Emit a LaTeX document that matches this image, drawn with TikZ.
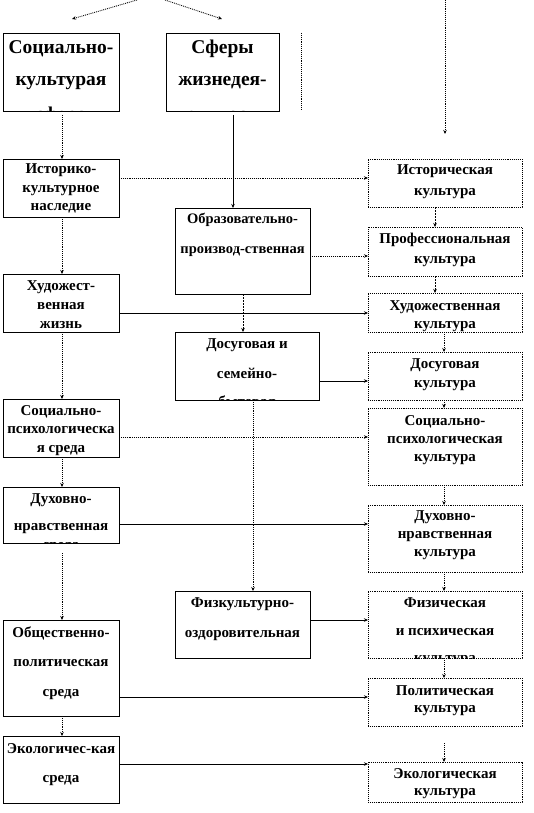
\documentclass[tikz,border=0pt]{standalone}
\usepackage{fontspec}
\setmainfont{Liberation Serif}
\usetikzlibrary{arrows.meta}
\begin{document}
\begin{tikzpicture}[x=1pt,y=-1pt,
  box/.style={draw,line width=0.9pt,rectangle,inner sep=0pt,outer sep=0pt,anchor=north west},
  dbox/.style={box,densely dotted},
  tip/.style={-{Stealth[length=4pt,width=3.5pt]}},
  sline/.style={line width=0.9pt},
  dline/.style={line width=0.9pt,densely dotted},
  dashline/.style={line width=0.9pt,dash pattern=on 2pt off 1pt},
  txt/.style={align=center,inner sep=0pt,anchor=base},
  big/.style={txt,font=\bfseries\fontsize{19.5}{32}\selectfont},
]
\useasboundingbox (0,0) rectangle (534,813);
\newcommand{\tx}[2]{\fontsize{#1}{#2}\selectfont\bfseries}
% text nodes are anchored at the baseline of their last line

% ---------- top boxes
\node[box,minimum width=116pt,minimum height=78pt] (sk) at (3,33) {};
\node[box,minimum width=113pt,minimum height=78pt] (sf) at (166,33) {};
\begin{scope}
  \clip (3,33) rectangle (119,111);
  \node[big] (skt) at (61,121) {Социально-\\культурая\\[3pt]сфера};
\end{scope}
\begin{scope}
  \clip (166,33) rectangle (279,111);
  \node[big] (sft) at (222.5,121) {Сферы\\жизнедея-\\[3pt]тельности};
\end{scope}

% ---------- left column
\node[box,minimum width=116pt,minimum height=58pt] (hist) at (3,159) {};
\node[txt,font=\tx{15}{18.5}] (histt) at (61,211) {Историко-\\культурное\\наследие};
\node[box,minimum width=116pt,minimum height=58pt] (hud) at (3,274) {};
\node[txt,font=\tx{15}{19}] (hudt) at (61,328) {Художест-\\венная\\жизнь};
\node[box,minimum width=116pt,minimum height=58pt] (socps) at (3,399) {};
\node[txt,font=\tx{15}{18.5}] (socpst) at (61,452) {Социально-\\психологическа\\я среда};
\node[box,minimum width=116pt,minimum height=56pt] (duh) at (3,487) {};
\begin{scope}
  \clip (3,487) rectangle (119,543);
  \node[txt,font=\tx{15}{27}] (duht) at (61,549) {Духовно-\\нравственная\\[-8pt]среда};
\end{scope}
\node[box,minimum width=116pt,minimum height=96pt] (obsh) at (3,620) {};
\node[txt,font=\tx{15}{29.5}] (obsht) at (61,696) {Общественно-\\политическая\\среда};
\node[box,minimum width=116pt,minimum height=67pt] (ekol) at (3,736) {};
\node[txt,font=\tx{15}{29}] (ekolt) at (61,782) {Экологичес-кая\\среда};

% ---------- middle column
\node[box,minimum width=135pt,minimum height=86pt] (obr) at (175,208) {};
\node[txt,font=\tx{14.5}{30}] (obrt) at (242.5,253) {Образовательно-\\производ-ственная};
\node[box,minimum width=144pt,minimum height=68pt] (dos) at (175,332) {};
\begin{scope}
  \clip (175,332) rectangle (319,400);
  \node[txt,font=\tx{15}{30}] (dost) at (247,406) {Досуговая и\\семейно-\\[-2pt]бытовая};
\end{scope}
\node[box,minimum width=135pt,minimum height=67pt] (fizk) at (175,591) {};
\node[txt,font=\tx{15}{30}] (fizkt) at (242.5,637) {Физкультурно-\\оздоровительная};

% ---------- right column
\node[dbox,minimum width=154pt,minimum height=48pt] (histc) at (368,159) {};
\node[txt,font=\tx{15}{21}] (histct) at (445,196) {Историческая\\культура};
\node[dbox,minimum width=154pt,minimum height=49pt] (prof) at (368,227) {};
\node[txt,font=\tx{15}{20}] (proft) at (445,263) {Профессиональная\\культура};
\node[dbox,minimum width=154pt,minimum height=39pt] (hudc) at (368,293) {};
\node[txt,font=\tx{15}{18}] (hudct) at (445,328) {Художественная\\культура};
\node[dbox,minimum width=154pt,minimum height=48pt] (dosc) at (368,352) {};
\node[txt,font=\tx{15}{19}] (dosct) at (445,387) {Досуговая\\культура};
\node[dbox,minimum width=154pt,minimum height=77pt] (socpc) at (368,408) {};
\node[txt,font=\tx{15}{18}] (socpct) at (445,461) {Социально-\\психологическая\\культура};
\node[dbox,minimum width=154pt,minimum height=67pt] (duhc) at (368,505) {};
\node[txt,font=\tx{15}{18}] (duhct) at (445,556) {Духовно-\\нравственная\\культура};
\node[dbox,minimum width=154pt,minimum height=67pt] (fiz) at (368,591) {};
\begin{scope}
  \clip (368,591) rectangle (522,658);
  \node[txt,font=\tx{15}{28}] (fizt) at (445,662) {Физическая\\и психическая\\[-1pt]культура};
\end{scope}
\node[dbox,minimum width=154pt,minimum height=48pt] (pol) at (368,678) {};
\node[txt,font=\tx{15}{17.5}] (polt) at (445,712.5) {Политическая\\культура};
\node[dbox,minimum width=154pt,minimum height=40pt] (ekolc) at (368,762) {};
\node[txt,font=\tx{15}{17.5}] (ekolct) at (445,795.5) {Экологическая\\культура};

% ---------- free ends
\coordinate (t1) at (137,0);
\coordinate (t2) at (165,0);
\coordinate (l1) at (72,19);
\coordinate (r1) at (222,19);
\coordinate (rt) at (445,0);
\coordinate (rb) at (445,134);
\coordinate (ex1) at (301,33);
\coordinate (ex2) at (301,110);
\coordinate (skd) at (62,115);
\coordinate (sfd) at (233,115);
\coordinate (duhd) at (62,553);
\coordinate (pold) at (444,743);

% ---------- connectors
\draw[dline,tip] (t1) -- (l1);
\draw[dline,tip] (t2) -- (r1);
\draw[dline,tip] (rt) -- (rb);
\draw[dline] (ex1) -- (ex2);
\draw[dline,tip] (skd) -- (skd |- hist.north);
\draw[sline,tip] (sfd) -- (sfd |- obr.north);
\draw[dline,tip] (hist.south -| skd) -- (hud.north -| skd);
\draw[dline,tip] (hud.south -| skd) -- (socps.north -| skd);
\draw[dline,tip] (socps.south -| skd) -- (duh.north -| skd);
\draw[dline,tip] (duhd) -- (obsh.north -| duhd);
\draw[dline,tip] (obsh.south -| skd) -- (ekol.north -| skd);
\draw[dashline,tip] (obr.south -| 243,0) -- (dos.north -| 243,0);
\draw[dline,tip] (dos.south -| 253,0) -- (fizk.north -| 253,0);

\draw[dline,tip] (hist.east |- 0,178) -- (histc.west |- 0,178);
\draw[dline,tip] (obr.east |- 0,256) -- (prof.west |- 0,256);
\draw[sline,tip] (hud.east |- 0,313) -- (hudc.west |- 0,313);
\draw[sline,tip] (dos.east |- 0,381) -- (dosc.west |- 0,381);
\draw[dline,tip] (socps.east |- 0,437) -- (socpc.west |- 0,437);
\draw[sline,tip] (duh.east |- 0,524) -- (duhc.west |- 0,524);
\draw[sline,tip] (fizk.east |- 0,620) -- (fiz.west |- 0,620);
\draw[sline,tip] (obsh.east |- 0,697) -- (pol.west |- 0,697);
\draw[sline,tip] (ekol.east |- 0,764) -- (ekolc.west |- 0,764);

\draw[dashline,tip] (histc.south -| 435,0) -- (prof.north -| 435,0);
\draw[dashline,tip] (prof.south -| 435,0) -- (hudc.north -| 435,0);
\draw[dline,tip] (hudc.south -| 444,0) -- (dosc.north -| 444,0);
\draw[dline,tip] (dosc.south -| 444,0) -- (socpc.north -| 444,0);
\draw[dline,tip] (socpc.south -| 444,0) -- (duhc.north -| 444,0);
\draw[dline,tip] (duhc.south -| 444,0) -- (fiz.north -| 444,0);
\draw[dline,tip] (fiz.south -| 444,0) -- (pol.north -| 444,0);
\draw[dline,tip] (pold) -- (ekolc.north -| pold);
\end{tikzpicture}
\end{document}
